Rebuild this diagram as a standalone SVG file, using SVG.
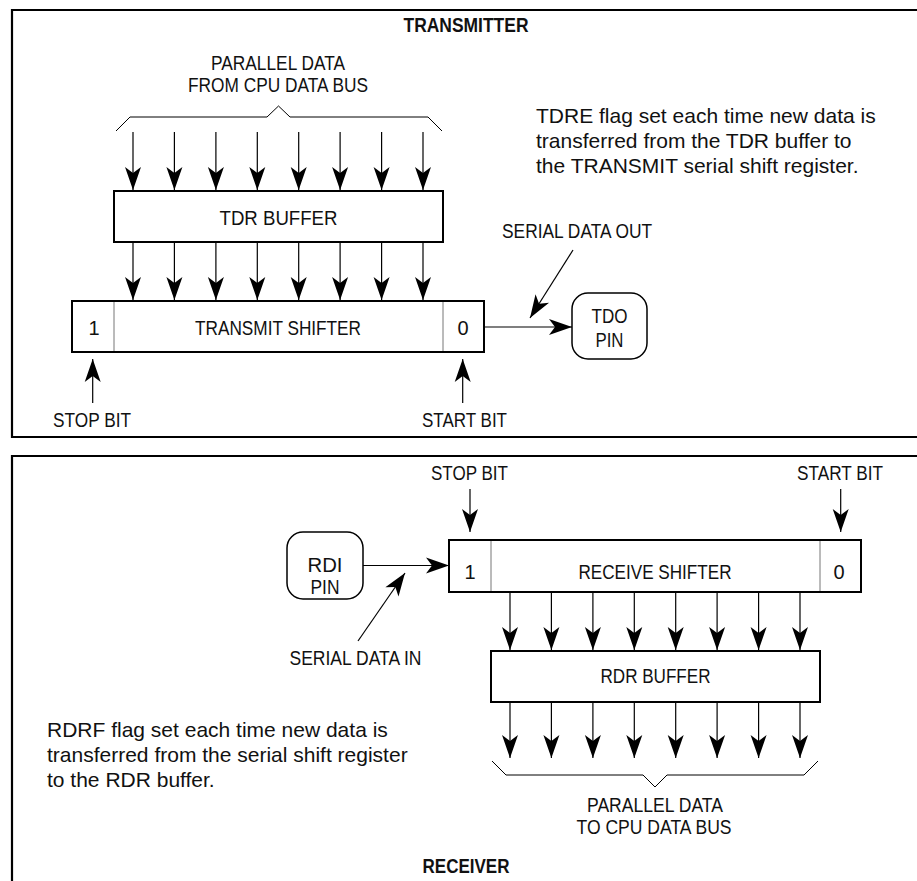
<svg xmlns="http://www.w3.org/2000/svg" width="917" height="881" viewBox="0 0 917 881">
<defs>
<style>
.frame{fill:none;stroke:#000;stroke-width:2.2}
.box{fill:#fff;stroke:#000;stroke-width:2}
.pin{fill:#fff;stroke:#000;stroke-width:1.5}
.div{stroke:#777;stroke-width:1}
.wire{fill:none;stroke:#000;stroke-width:1.2}
.brace{fill:none;stroke:#000;stroke-width:1}
.lbl{font-family:"Liberation Sans Narrow","Liberation Sans",Arial,sans-serif;font-size:20px;fill:#111}
.bold{font-family:"Liberation Sans Narrow","Liberation Sans",Arial,sans-serif;font-size:20px;font-weight:bold;fill:#111}
.para{font-family:"Liberation Sans",Arial,sans-serif;font-size:21px;fill:#111}
.c{text-anchor:middle}
</style>
<marker id="ah" viewBox="-24 -9 25 18" refX="0" refY="0" markerWidth="25" markerHeight="18" markerUnits="userSpaceOnUse" orient="auto">
<path d="M0,0 L-23,-8 L-17,0 L-23,8 Z" fill="#000"/>
</marker>
</defs>
<rect width="917" height="881" fill="#fff"/>

<g id="transmitter-panel">
<path class="frame" d="M917,10 H12 V437 H917"/>
<text class="bold c" x="466" y="32" textLength="125" lengthAdjust="spacingAndGlyphs">TRANSMITTER</text>
</g>

<g id="receiver-panel">
<path class="frame" d="M917,456 H12 V881"/>
<text class="bold c" x="466" y="873" textLength="87" lengthAdjust="spacingAndGlyphs">RECEIVER</text>
</g>

<g id="cpu-bus-in">
<path class="brace" d="M116,131 L130,117 H267 L278.5,106 L290,117 H428 L442,131"/>
<text class="lbl c" x="278" y="69.5" textLength="134" lengthAdjust="spacingAndGlyphs">PARALLEL DATA</text>
<text class="lbl c" x="278" y="92" textLength="180" lengthAdjust="spacingAndGlyphs">FROM CPU DATA BUS</text>
</g>

<g id="tdr-buffer">
<rect class="box" x="114" y="191" width="329" height="51"/>
<text class="lbl c" x="278.5" y="225" textLength="118" lengthAdjust="spacingAndGlyphs">TDR BUFFER</text>
</g>

<g id="transmit-shifter">
<rect class="box" x="72" y="301" width="412" height="51"/>
<line class="div" x1="114" y1="302" x2="114" y2="351"/>
<line class="div" x1="443" y1="302" x2="443" y2="351"/>
<text class="lbl c" x="94" y="335">1</text>
<text class="lbl c" x="278" y="335" textLength="166" lengthAdjust="spacingAndGlyphs">TRANSMIT SHIFTER</text>
<text class="lbl c" x="463" y="335">0</text>
</g>

<g id="tdo-pin">
<rect class="pin" x="572" y="293" width="75" height="66" rx="16" ry="16"/>
<text class="lbl c" x="609.5" y="323" textLength="36" lengthAdjust="spacingAndGlyphs">TDO</text>
<text class="lbl c" x="609.5" y="347" textLength="28" lengthAdjust="spacingAndGlyphs">PIN</text>
</g>

<g id="tdre-note">
<text class="para" x="536" y="123">TDRE flag set each time new data is</text>
<text class="para" x="536" y="148">transferred from the TDR buffer to</text>
<text class="para" x="536" y="173">the TRANSMIT serial shift register.</text>
</g>

<g id="tx-labels">
<text class="lbl c" x="577" y="238" textLength="150" lengthAdjust="spacingAndGlyphs">SERIAL DATA OUT</text>
<text class="lbl c" x="92" y="427" textLength="78" lengthAdjust="spacingAndGlyphs">STOP BIT</text>
<text class="lbl c" x="464.5" y="427" textLength="85" lengthAdjust="spacingAndGlyphs">START BIT</text>
</g>

<g id="rdi-pin">
<rect class="pin" x="287" y="532" width="76" height="67" rx="16" ry="16"/>
<text class="lbl c" x="325" y="572" textLength="35" lengthAdjust="spacingAndGlyphs">RDI</text>
<text class="lbl c" x="325" y="594" textLength="29" lengthAdjust="spacingAndGlyphs">PIN</text>
</g>

<g id="receive-shifter">
<rect class="box" x="449" y="540" width="412" height="52"/>
<line class="div" x1="491" y1="541" x2="491" y2="591"/>
<line class="div" x1="820" y1="541" x2="820" y2="591"/>
<text class="lbl c" x="470" y="579">1</text>
<text class="lbl c" x="655" y="579" textLength="153" lengthAdjust="spacingAndGlyphs">RECEIVE SHIFTER</text>
<text class="lbl c" x="839" y="579">0</text>
</g>

<g id="rdr-buffer">
<rect class="box" x="491" y="651" width="329" height="51"/>
<text class="lbl c" x="655.5" y="683" textLength="110" lengthAdjust="spacingAndGlyphs">RDR BUFFER</text>
</g>

<g id="cpu-bus-out">
<path class="brace" d="M492,761 L506,775 H643 L655,787 L667,775 H804 L818,761"/>
<text class="lbl c" x="655" y="812" textLength="136" lengthAdjust="spacingAndGlyphs">PARALLEL DATA</text>
<text class="lbl c" x="654" y="834" textLength="155" lengthAdjust="spacingAndGlyphs">TO CPU DATA BUS</text>
</g>

<g id="rdrf-note">
<text class="para" x="47" y="737">RDRF flag set each time new data is</text>
<text class="para" x="47" y="762">transferred from the serial shift register</text>
<text class="para" x="47" y="787">to the RDR buffer.</text>
</g>

<g id="rx-labels">
<text class="lbl c" x="469.5" y="480" textLength="77" lengthAdjust="spacingAndGlyphs">STOP BIT</text>
<text class="lbl c" x="840" y="480" textLength="86" lengthAdjust="spacingAndGlyphs">START BIT</text>
<text class="lbl c" x="355.5" y="665" textLength="132" lengthAdjust="spacingAndGlyphs">SERIAL DATA IN</text>
</g>

<g id="connectors" class="wire" marker-end="url(#ah)">
<path d="M133,132 V190"/>
<path d="M174.4,132 V190"/>
<path d="M215.9,132 V190"/>
<path d="M257.3,132 V190"/>
<path d="M298.7,132 V190"/>
<path d="M340.1,132 V190"/>
<path d="M381.6,132 V190"/>
<path d="M423,132 V190"/>
<path d="M133,242 V300"/>
<path d="M174.4,242 V300"/>
<path d="M215.9,242 V300"/>
<path d="M257.3,242 V300"/>
<path d="M298.7,242 V300"/>
<path d="M340.1,242 V300"/>
<path d="M381.6,242 V300"/>
<path d="M423,242 V300"/>
<path d="M484,327 H572"/>
<path d="M573,250 L530,318"/>
<path d="M92.7,403 V359"/>
<path d="M462.7,403 V359"/>
<path d="M470,489 V532"/>
<path d="M840.7,489 V532"/>
<path d="M363,565.5 H449"/>
<path d="M358,641 L405,573"/>
<path d="M510,592 V650"/>
<path d="M551.4,592 V650"/>
<path d="M592.9,592 V650"/>
<path d="M634.3,592 V650"/>
<path d="M675.7,592 V650"/>
<path d="M717.1,592 V650"/>
<path d="M758.6,592 V650"/>
<path d="M800,592 V650"/>
<path d="M510,702 V758"/>
<path d="M551.4,702 V758"/>
<path d="M592.9,702 V758"/>
<path d="M634.3,702 V758"/>
<path d="M675.7,702 V758"/>
<path d="M717.1,702 V758"/>
<path d="M758.6,702 V758"/>
<path d="M800,702 V758"/>
</g>
</svg>
